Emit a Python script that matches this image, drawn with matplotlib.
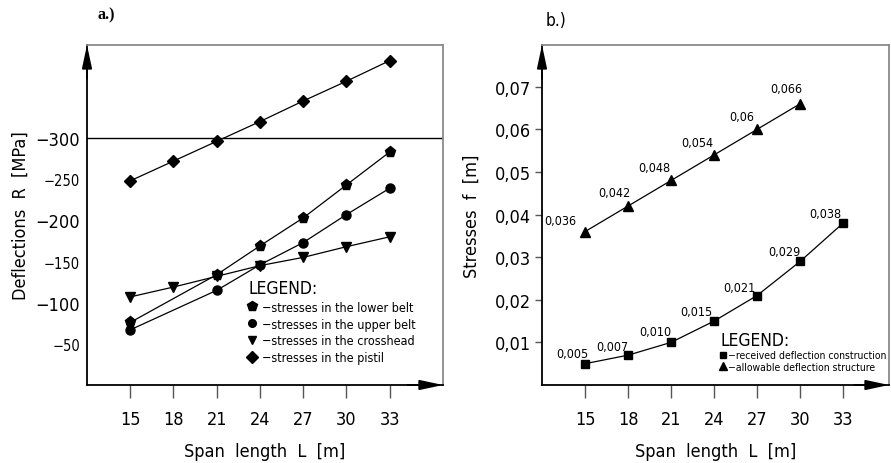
import matplotlib
matplotlib.use("Agg")
import matplotlib.pyplot as plt
from matplotlib.lines import Line2D

plt.rcParams['font.family'] = ['DejaVu Sans']
plt.rcParams['font.stretch'] = 'condensed'

# ---------------------------------------------------------------- data (a)
span_a = [15, 18, 21, 24, 27, 30, 33]
span_belt = [15, 21, 24, 27, 30, 33]          # belts have no point at 18
lower_belt = [76, 134, 169, 203, 243, 283]
upper_belt = [67, 115, 146, 173, 207, 239]
crosshead = [107, 119, 132, 145, 155, 168, 180]
pistil = [248, 272, 296, 320, 345, 369, 394]
ticks_a = [50, 100, 150, 200, 250, 300]
ticklabels_a = ["\u221250", "\u2212100", "\u2212150", "\u2212200", "\u2212250", "\u2212300"]
labels_a = ["\u2212stresses in the lower belt", "\u2212stresses in the upper belt",
            "\u2212stresses in the crosshead", "\u2212stresses in the pistil"]

# ---------------------------------------------------------------- data (b)
span_recv = [15, 18, 21, 24, 27, 30, 33]
received = [0.005, 0.007, 0.010, 0.015, 0.021, 0.029, 0.038]
received_txt = ["0,005", "0,007", "0,010", "0,015", "0,021", "0,029", "0,038"]
span_allow = [15, 18, 21, 24, 27, 30]
allowable = [0.036, 0.042, 0.048, 0.054, 0.060, 0.066]
allowable_txt = ["0,036", "0,042", "0,048", "0,054", "0,06", "0,066"]
ticks_b = [0.01, 0.02, 0.03, 0.04, 0.05, 0.06, 0.07]
ticklabels_b = ["0,01", "0,02", "0,03", "0,04", "0,05", "0,06", "0,07"]
labels_b = ["\u2212received deflection construction", "\u2212allowable deflection structure"]

span_ticks = [15, 18, 21, 24, 27, 30, 33]

# label offsets (points) for the value annotations
recv_off = [(-9, 7), (-11, 6), (-11, 8), (-13, 7), (-13, 6), (-11, 7), (-13, 7)]
allow_off = [(-18, 8), (-10, 10), (-12, 9), (-12, 9), (-11, 9), (-10, 11)]

fig = plt.figure(figsize=(8.91, 4.64), dpi=100)
ax1 = fig.add_axes([87 / 891, 78 / 464, 356 / 891, 340 / 464])
ax2 = fig.add_axes([542 / 891, 78 / 464, 347 / 891, 340 / 464])


def frame(ax):
    for s in ("left", "bottom"):
        ax.spines[s].set_color("black")
        ax.spines[s].set_linewidth(1.3)
    for s in ("top", "right"):
        ax.spines[s].set_color("#8a8a8a")
        ax.spines[s].set_linewidth(1.3)
    # arrow heads on the axes
    ax.annotate("", xy=(0, 1.0), xytext=(0, 0.9), xycoords="axes fraction",
                arrowprops=dict(arrowstyle="-|>,head_length=1.4,head_width=0.3",
                                color="black", lw=1.3, shrinkA=0, shrinkB=0))
    ax.annotate("", xy=(1.0, 0), xytext=(0.9, 0), xycoords="axes fraction",
                arrowprops=dict(arrowstyle="-|>,head_length=1.4,head_width=0.3",
                                color="black", lw=1.3, shrinkA=0, shrinkB=0))
    ax.set_xticks(span_ticks)
    ax.set_xticklabels([str(v) for v in span_ticks], fontsize=13)
    ax.tick_params(axis="x", direction="out", length=9, width=1, pad=9,
                   color="#555555")


# ---------------------------------------------------------------- panel a
ax = ax1
ax.plot(span_belt, lower_belt, color="black", lw=0.9, marker="p", ms=8)
ax.plot(span_belt, upper_belt, color="black", lw=0.9, marker="o", ms=6.5)
ax.plot(span_a, crosshead, color="black", lw=0.9, marker="v", ms=7)
ax.plot(span_a, pistil, color="black", lw=0.9, marker="D", ms=6.5)
ax.axhline(300, color="black", lw=1)
ax.set_xlim(12, 36.7)
ax.set_ylim(0, 413)
frame(ax)
ax.set_yticks(ticks_a)
ax.set_yticklabels(ticklabels_a)
for lab, fs in zip(ax.get_yticklabels(), [10.5, 13, 10.5, 13, 10.5, 13]):
    lab.set_fontsize(fs)
ax.tick_params(axis="y", length=0, pad=5)
ax.set_xlabel("Span  length  L  [m]", fontsize=13, labelpad=10)
ax.set_ylabel("Deflections  R  [MPa]", fontsize=13, labelpad=4)

handles_a = [Line2D([], [], ls="none", marker=m, color="black", ms=s)
             for m, s in zip(["p", "o", "v", "D"], [7, 5.5, 6, 6])]
ax.legend(handles_a, labels_a, title="LEGEND:", loc="upper left",
          bbox_to_anchor=(0.435, 0.33), frameon=False, fontsize=9,
          title_fontsize=12.5, handlelength=0.6, handletextpad=0.5,
          labelspacing=0.3, borderpad=0, alignment="left")

ax1.text(0.03, 1.09, "a.)", transform=ax1.transAxes, fontsize=11.5,
         family="Liberation Serif", fontweight="bold", va="center")

# ---------------------------------------------------------------- panel b
ax = ax2
ax.plot(span_recv, received, color="black", lw=0.9, marker="s", ms=5.5)
ax.plot(span_allow, allowable, color="black", lw=0.9, marker="^", ms=7)
for x, y, t, o in zip(span_recv, received, received_txt, recv_off):
    ax.annotate(t, (x, y), xytext=o, textcoords="offset points",
                ha="center", va="center", fontsize=9)
for x, y, t, o in zip(span_allow, allowable, allowable_txt, allow_off):
    ax.annotate(t, (x, y), xytext=o, textcoords="offset points",
                ha="center", va="center", fontsize=9)
ax.set_xlim(12, 36.2)
ax.set_ylim(0, 0.0798)
frame(ax)
ax.set_yticks(ticks_b)
ax.set_yticklabels(ticklabels_b, fontsize=13)
ax.tick_params(axis="y", direction="out", length=5, width=1, pad=3,
               color="#555555")
ax.set_xlabel("Span  length  L  [m]", fontsize=13, labelpad=10)
ax.set_ylabel("Stresses  f  [m]", fontsize=13, labelpad=10)

handles_b = [Line2D([], [], ls="none", marker=m, color="black", ms=s)
             for m, s in zip(["s", "^"], [4.5, 5.5])]
ax.legend(handles_b, labels_b, title="LEGEND:", loc="upper left",
          bbox_to_anchor=(0.50, 0.175), frameon=False, fontsize=7.5,
          title_fontsize=12.5, handlelength=0.4, handletextpad=0.3,
          labelspacing=0.15, borderpad=0, alignment="left")

ax2.text(0.01, 1.075, "b.)", transform=ax2.transAxes, fontsize=12.5,
         va="center")

fig.savefig("out.png", dpi=100)
